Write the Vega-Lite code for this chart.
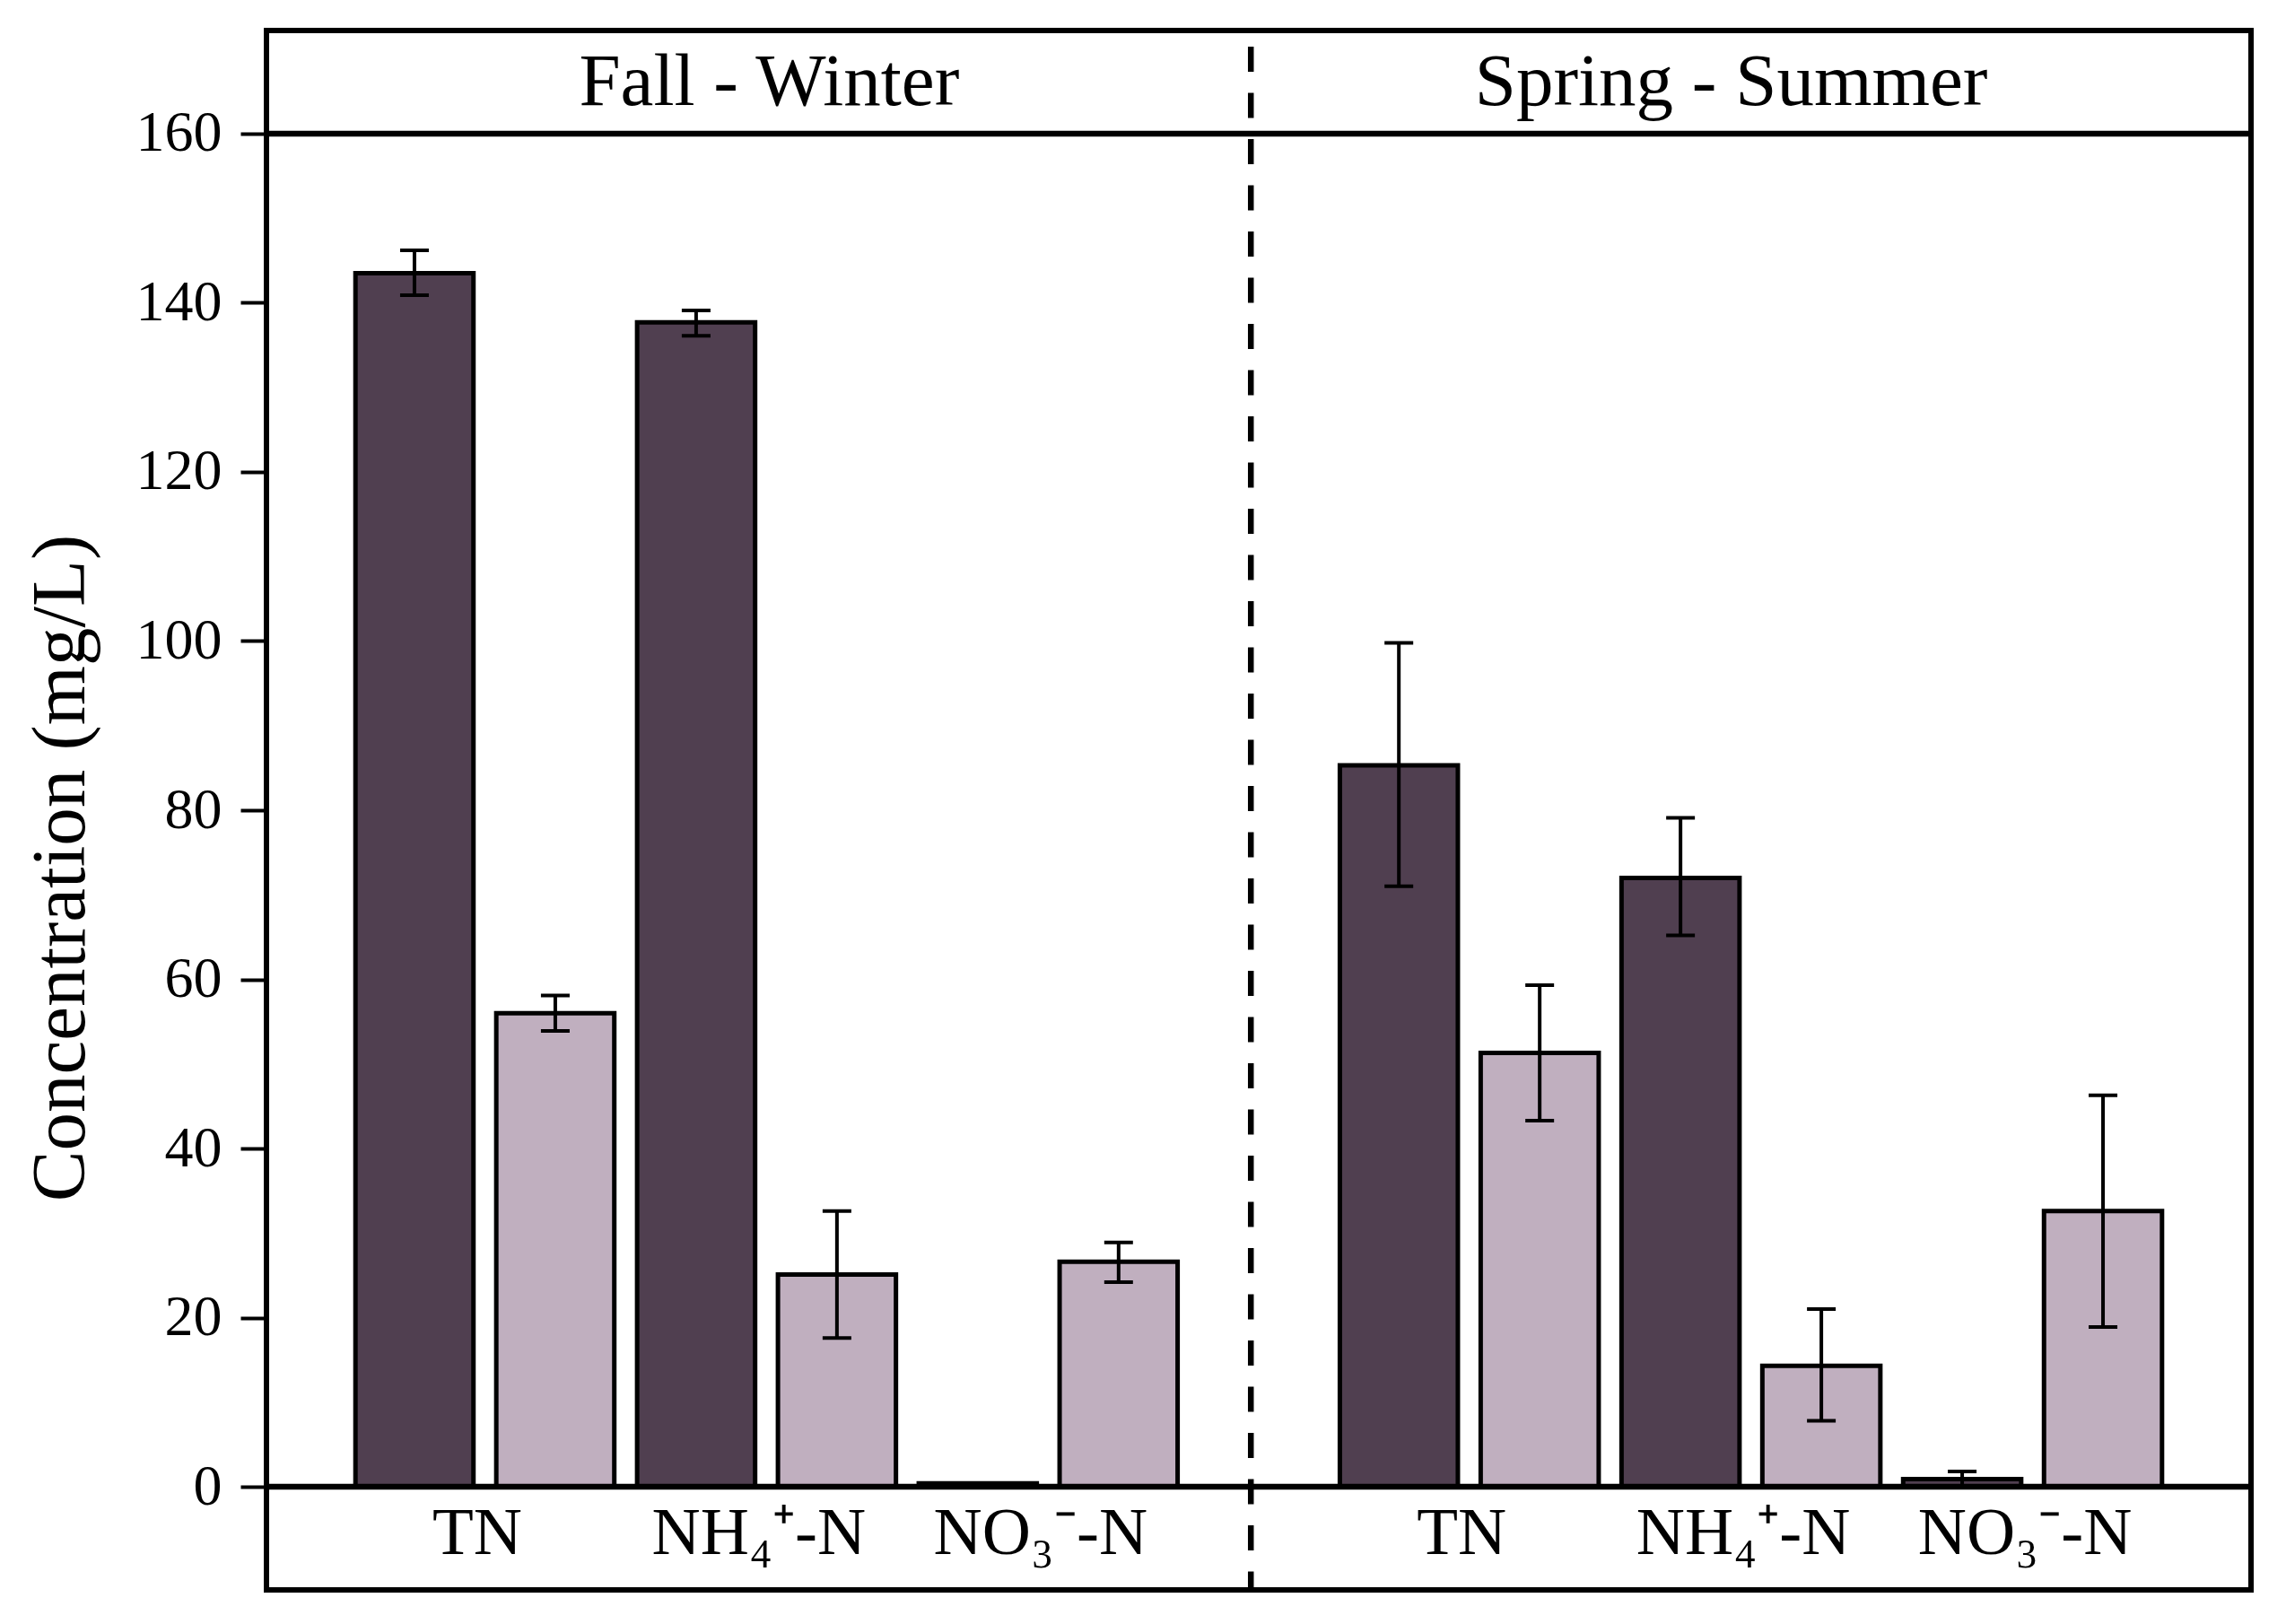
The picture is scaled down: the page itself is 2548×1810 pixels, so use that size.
{
  "$schema": "https://vega.github.io/schema/vega-lite/v6.json",
  "width": 2212,
  "height": 1738,
  "autosize": {"type": "none"},
  "padding": {"left": 297, "top": 34, "right": 39, "bottom": 38},
  "background": "white",
  "config": {
    "view": {"stroke": "black", "strokeWidth": 6},
    "font": "Liberation Serif",
    "text": {"font": "Liberation Serif", "color": "black"},
    "axisY": {"domain": false, "grid": false, "ticks": true, "tickSize": 29, "tickWidth": 4, "tickColor": "black",
              "labelFont": "Liberation Serif", "labelFontSize": 64, "labelColor": "black", "labelPadding": 21,
              "titleFont": "Liberation Serif", "titleFontSize": 85, "titleFontWeight": "normal", "titleColor": "black",
              "titleAngle": -90, "titleX": -204, "titleY": 933, "titleAlign": "center", "titleBaseline": "alphabetic"}
  },
  "datasets": {
    "bars": [
      {"season": "Fall - Winter", "nutrient": "TN", "stage": "Influent", "bar": "TN Influent", "value": 143.5, "lo": 140.9, "hi": 146.2},
      {"season": "Fall - Winter", "nutrient": "TN", "stage": "Effluent", "bar": "TN Effluent", "value": 56.0, "lo": 53.9, "hi": 58.1},
      {"season": "Fall - Winter", "nutrient": "NH4", "stage": "Influent", "bar": "NH4 Influent", "value": 137.7, "lo": 136.1, "hi": 139.1},
      {"season": "Fall - Winter", "nutrient": "NH4", "stage": "Effluent", "bar": "NH4 Effluent", "value": 25.1, "lo": 17.6, "hi": 32.6},
      {"season": "Fall - Winter", "nutrient": "NO3", "stage": "Influent", "bar": "NO3 Influent", "value": 0.4, "lo": null, "hi": null},
      {"season": "Fall - Winter", "nutrient": "NO3", "stage": "Effluent", "bar": "NO3 Effluent", "value": 26.6, "lo": 24.2, "hi": 28.9},
      {"season": "Spring - Summer", "nutrient": "TN", "stage": "Influent", "bar": "TN Influent", "value": 85.3, "lo": 71.0, "hi": 99.8},
      {"season": "Spring - Summer", "nutrient": "TN", "stage": "Effluent", "bar": "TN Effluent", "value": 51.3, "lo": 43.3, "hi": 59.3},
      {"season": "Spring - Summer", "nutrient": "NH4", "stage": "Influent", "bar": "NH4 Influent", "value": 72.0, "lo": 65.2, "hi": 79.1},
      {"season": "Spring - Summer", "nutrient": "NH4", "stage": "Effluent", "bar": "NH4 Effluent", "value": 14.3, "lo": 7.8, "hi": 21.0},
      {"season": "Spring - Summer", "nutrient": "NO3", "stage": "Influent", "bar": "NO3 Influent", "value": 0.9, "lo": 0.0, "hi": 1.8},
      {"season": "Spring - Summer", "nutrient": "NO3", "stage": "Effluent", "bar": "NO3 Effluent", "value": 32.6, "lo": 18.9, "hi": 46.3}
    ],
    "labels": [
      {"season": "Fall - Winter", "bar": "TN Influent", "label": "TN"},
      {"season": "Fall - Winter", "bar": "NH4 Influent", "label": "NH₄⁺-N"},
      {"season": "Fall - Winter", "bar": "NO3 Influent", "label": "NO₃⁻-N"},
      {"season": "Spring - Summer", "bar": "TN Influent", "label": "TN"},
      {"season": "Spring - Summer", "bar": "NH4 Influent", "label": "NH₄⁺-N"},
      {"season": "Spring - Summer", "bar": "NO3 Influent", "label": "NO₃⁻-N"}
    ],
    "seasons": [
      {"season": "Fall - Winter"},
      {"season": "Spring - Summer"}
    ],
    "one": [{}]
  },
  "layer": [
    {
      "data": {"name": "bars"},
      "mark": {"type": "bar", "stroke": "black", "strokeWidth": 5},
      "encoding": {
        "x": {"field": "season", "type": "nominal", "axis": null,
              "scale": {"domain": ["Fall - Winter", "Spring - Summer"], "paddingInner": 0, "paddingOuter": 0.008}},
        "xOffset": {"field": "bar", "type": "nominal",
              "scale": {"domain": ["TN Influent", "TN Effluent", "NH4 Influent", "NH4 Effluent", "NO3 Influent", "NO3 Effluent"], "paddingInner": 0.162, "paddingOuter": 0.576}},
        "y": {"field": "value", "type": "quantitative", "stack": null,
              "scale": {"domain": [-12.2, 172.2], "nice": false, "zero": false},
              "axis": {"values": [0, 20, 40, 60, 80, 100, 120, 140, 160], "title": "Concentration (mg/L)"}},
        "color": {"field": "stage", "type": "nominal", "legend": null,
                  "scale": {"domain": ["Influent", "Effluent"], "range": ["#503F50", "#C0AFBF"]}}
      }
    },
    {
      "data": {"name": "bars"},
      "mark": {"type": "rule", "strokeWidth": 4, "color": "black"},
      "encoding": {
        "x": {"field": "season", "type": "nominal"},
        "xOffset": {"field": "bar", "type": "nominal"},
        "y": {"field": "lo", "type": "quantitative"},
        "y2": {"field": "hi"}
      }
    },
    {
      "data": {"name": "bars"},
      "mark": {"type": "tick", "orient": "horizontal", "size": 32, "thickness": 4, "color": "black", "opacity": 1},
      "encoding": {
        "x": {"field": "season", "type": "nominal"},
        "xOffset": {"field": "bar", "type": "nominal"},
        "y": {"field": "lo", "type": "quantitative"}
      }
    },
    {
      "data": {"name": "bars"},
      "mark": {"type": "tick", "orient": "horizontal", "size": 32, "thickness": 4, "color": "black", "opacity": 1},
      "encoding": {
        "x": {"field": "season", "type": "nominal"},
        "xOffset": {"field": "bar", "type": "nominal"},
        "y": {"field": "hi", "type": "quantitative"}
      }
    },
    {
      "data": {"name": "one"},
      "mark": {"type": "rule", "strokeWidth": 6.5, "color": "black"},
      "encoding": {"y": {"datum": 0, "type": "quantitative"}}
    },
    {
      "data": {"name": "one"},
      "mark": {"type": "rule", "strokeWidth": 6.5, "color": "black"},
      "encoding": {"y": {"datum": 160, "type": "quantitative"}}
    },
    {
      "data": {"name": "one"},
      "mark": {"type": "rule", "strokeWidth": 6.5, "color": "black", "strokeDash": [28, 23.5], "strokeDashOffset": 33.5},
      "encoding": {"x": {"datum": "Fall - Winter", "type": "nominal", "bandPosition": 0.992}}
    },
    {
      "data": {"name": "seasons"},
      "transform": [{"filter": "datum.season == 'Fall - Winter'"}],
      "mark": {"type": "text", "fontSize": 83, "align": "center", "baseline": "alphabetic", "color": "black", "dx": 3},
      "encoding": {
        "x": {"field": "season", "type": "nominal"},
        "y": {"datum": 163.4, "type": "quantitative"},
        "text": {"field": "season"}
      }
    },
    {
      "data": {"name": "seasons"},
      "transform": [{"filter": "datum.season == 'Spring - Summer'"}],
      "mark": {"type": "text", "fontSize": 83, "align": "center", "baseline": "alphabetic", "color": "black", "dx": -22},
      "encoding": {
        "x": {"field": "season", "type": "nominal"},
        "y": {"datum": 163.4, "type": "quantitative"},
        "text": {"field": "season"}
      }
    },
    {
      "data": {"name": "labels"},
      "mark": {"type": "text", "fontSize": 75, "align": "center", "baseline": "alphabetic", "color": "black", "dx": 70},
      "encoding": {
        "x": {"field": "season", "type": "nominal"},
        "xOffset": {"field": "bar", "type": "nominal"},
        "y": {"datum": -8.0, "type": "quantitative"},
        "text": {"field": "label"}
      }
    }
  ]
}
